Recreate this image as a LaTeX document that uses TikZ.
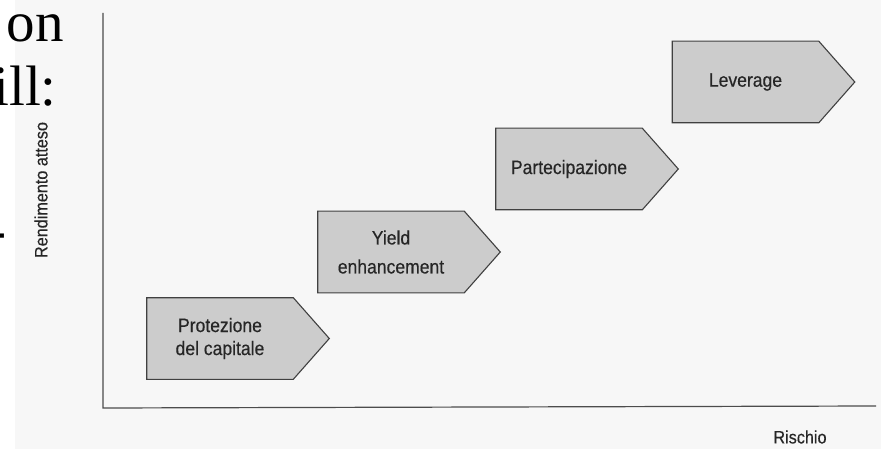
\documentclass[tikz,border=0pt]{standalone}
\usepackage{fontspec}
\newfontfamily\boxfont[FakeStretch=0.9,FakeBold=0.4]{Liberation Sans}
\newfontfamily\slidefont{Liberation Serif}
\usetikzlibrary{calc,backgrounds}

\begin{document}
\begin{tikzpicture}[x=1pt, y=-1pt, semithick,
  every node/.style={inner sep=0pt},
  product/.style={minimum width=146pt, minimum height=81pt, align=center,
    font=\boxfont\fontsize{19.5}{23}\selectfont, text=black!85},
  outline/.style={draw=black!75, fill=black!20, line width=1.1pt},
  axis/.style={draw=black!70, line width=1.2pt},
  axislabel/.style={font=\boxfont\fontsize{18}{21}\selectfont, text=black!85},
  slidetext/.style={font=\slidefont\fontsize{57}{60}\selectfont}]
  \useasboundingbox (0,0) rectangle (881,449);

  % the four products
  \node[product] (prot)  at (220,338.5) {Protezione\\del capitale};
  \node[product] (yield) at (391,252)   {Yield\\[6pt]enhancement};
  \node[product] (part)  at (569,169)   {Partecipazione};
  \node[product] (lev)   at (745.5,82)  {Leverage};

  \begin{scope}[on background layer]
    \fill[black!3] (15,0) rectangle (881,449);
    \foreach \b in {prot,yield,part,lev}
      \filldraw[outline] (\b.north west) -- (\b.north east) -- ($(\b.east)+(36,0)$)
        -- (\b.south east) -- (\b.south west) -- cycle;
  \end{scope}

  % axes
  \coordinate (origin) at (103,408);
  \coordinate (ytop)   at (103,13);
  \coordinate (xend)   at (876,406);
  \draw[axis] (ytop) -- (origin) -- (xend);

  \node[axislabel] (risk) at (800,437) {Rischio};
  \node[axislabel, rotate=90] (ret) at (41,190) {Rendimento atteso};

  % cut slide text
  \node[slidetext, anchor=base east] (on)   at (64,42)  {on};
  \node[slidetext, anchor=base east] (ill)  at (57,106) {ill:};
  \node[slidetext, anchor=east]      (dash) at (7,242)  {-};
\end{tikzpicture}
\end{document}
